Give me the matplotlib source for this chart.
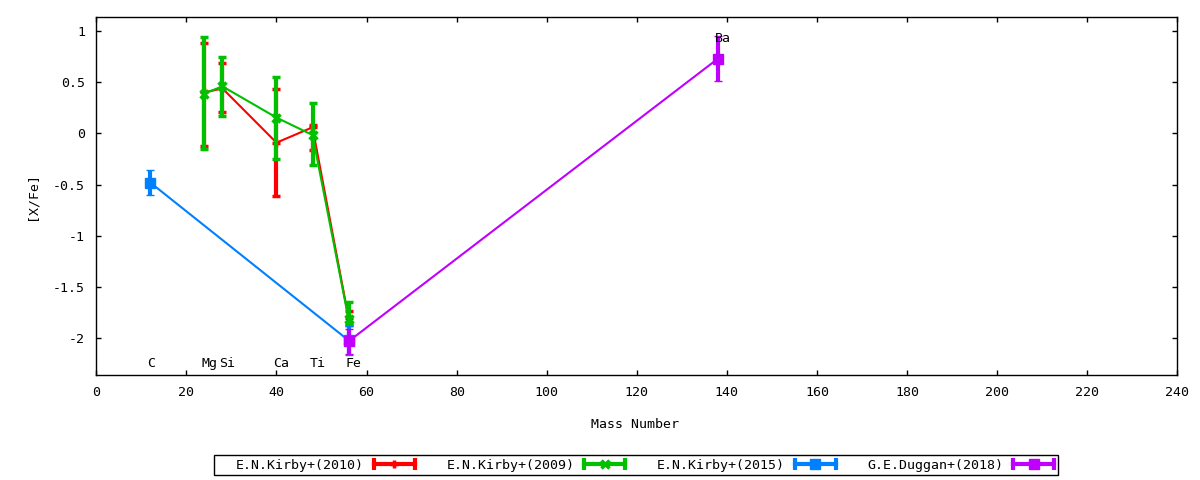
import matplotlib
matplotlib.use("Agg")
import matplotlib.pyplot as plt
from matplotlib.lines import Line2D
from matplotlib.legend_handler import HandlerBase
from matplotlib.patches import Rectangle

# ---- data ----
elements = ["C", "Mg", "Si", "Ca", "Ti", "Fe", "Ba"]
mass = [12, 24, 28, 40, 48, 56, 138]
label_y = [-2.245, -2.245, -2.245, -2.245, -2.245, -2.245, 0.93]

kirby2010_x = [24, 28, 40, 48, 56]
kirby2010_y = [0.40, 0.44, -0.09, 0.06, -1.80]
kirby2010_lo = [0.52, 0.23, 0.52, 0.22, 0.07]
kirby2010_hi = [0.48, 0.25, 0.52, 0.02, 0.07]

kirby2009_x = [24, 28, 40, 48, 56]
kirby2009_y = [0.39, 0.46, 0.155, -0.015, -1.81]
kirby2009_lo = [0.54, 0.29, 0.40, 0.295, 0.05]
kirby2009_hi = [0.55, 0.29, 0.40, 0.315, 0.16]

kirby2015_x = [12, 56]
kirby2015_y = [-0.48, -2.02]
kirby2015_err = [0.12, 0.145]

duggan2018_x = [56, 138]
duggan2018_y = [-2.03, 0.73]
duggan2018_err = [0.12, 0.22]

series_labels = ["E.N.Kirby+(2010)", "E.N.Kirby+(2009)", "E.N.Kirby+(2015)", "G.E.Duggan+(2018)"]
colors = ["#ff0000", "#00c000", "#0080ff", "#c000ff"]
markers = ["+", "x", "s", "s"]

xticks = [0, 20, 40, 60, 80, 100, 120, 140, 160, 180, 200, 220, 240]
yticks = [-2, -1.5, -1, -0.5, 0, 0.5, 1]
ytick_labels = ["-2", "-1.5", "-1", "-0.5", "0", "0.5", "1"]

# ---- style ----
plt.rcParams["font.family"] = ["DejaVu Sans Mono", "DejaVu Sans"]
plt.rcParams["font.size"] = 9.5
plt.rcParams["axes.unicode_minus"] = False

fig = plt.figure(figsize=(12, 4.8), dpi=100)
ax = fig.add_axes([96.3 / 1200, 1 - 375.3 / 480, 1081 / 1200, 358 / 480])

marker_sizes = [6, 6, 7.5, 7.5]
marker_mews = [2.5, 2.5, 1, 1]

datasets = [
    (kirby2010_x, kirby2010_y, [kirby2010_lo, kirby2010_hi]),
    (kirby2009_x, kirby2009_y, [kirby2009_lo, kirby2009_hi]),
    (kirby2015_x, kirby2015_y, kirby2015_err),
    (duggan2018_x, duggan2018_y, duggan2018_err),
]

for i, (xs, ys, err) in enumerate(datasets):
    ax.errorbar(xs, ys, yerr=err, color=colors[i], ecolor=colors[i],
                marker=markers[i], markersize=marker_sizes[i], markeredgewidth=marker_mews[i],
                lw=1.5, elinewidth=3, capsize=3, capthick=2.5, zorder=2 + i)

for el, mx, ly in zip(elements, mass, label_y):
    ax.annotate(el, (mx, ly), xytext=(-2.3, 0), textcoords="offset points",
                ha="left", va="center", fontsize=9.5, zorder=10)

ax.set_xlim(0, 240)
ax.set_ylim(-2.361, 1.134)
ax.set_xticks(xticks)
ax.set_yticks(yticks)
ax.set_yticklabels(ytick_labels)
ax.tick_params(direction="in", length=3.6, width=1, top=True, right=True, pad=8, labelsize=9.5)
for s in ax.spines.values():
    s.set_linewidth(1)

ax.set_xlabel("Mass Number", fontsize=9.5)
ax.xaxis.label.set_va("center")
ax.xaxis.set_label_coords(0.4985, (375.3 - 425) / 358)
ax.set_ylabel("[X/Fe]", fontsize=9.5)
ax.yaxis.label.set_va("center")
ax.yaxis.set_label_coords((32 - 96.3) / 1081, (375.3 - 196) / 358)


class HandlerGP(HandlerBase):
    def create_artists(self, legend, orig_handle, xdescent, ydescent, width, height, fontsize, trans):
        c = orig_handle.get_color()
        m = orig_handle.get_marker()
        ms = orig_handle.get_markersize()
        mew = orig_handle.get_markeredgewidth()
        y = height / 2 - ydescent
        x0, x1 = -xdescent, width - xdescent
        line = Line2D([x0, x1], [y, y], color=c, lw=3, transform=trans)
        caps = Line2D([x0, x1], [y, y], color=c, ls="none", marker="|", markersize=9,
                      markeredgewidth=3, transform=trans)
        mk = Line2D([(x0 + x1) / 2], [y], color=c, ls="none", marker=m, markersize=ms,
                    markeredgewidth=mew, transform=trans)
        return [line, caps, mk]


handles = [Line2D([], [], color=colors[i], marker=markers[i], markersize=marker_sizes[i],
                  markeredgewidth=marker_mews[i]) for i in range(4)]
leg = fig.legend(handles, series_labels, loc="center", bbox_to_anchor=(645 / 1200, 1 - 465 / 480),
                 ncol=4, frameon=False, markerfirst=False, handlelength=3.1, handletextpad=0.75,
                 columnspacing=2.4, borderpad=0, fontsize=9.5,
                 handler_map={Line2D: HandlerGP()})
fig.patches.append(Rectangle((214 / 1200, 1 - 475 / 480), 844 / 1200, 20 / 480,
                             transform=fig.transFigure, fill=False, edgecolor="black", lw=1))

fig.savefig("out.png", dpi=100)
